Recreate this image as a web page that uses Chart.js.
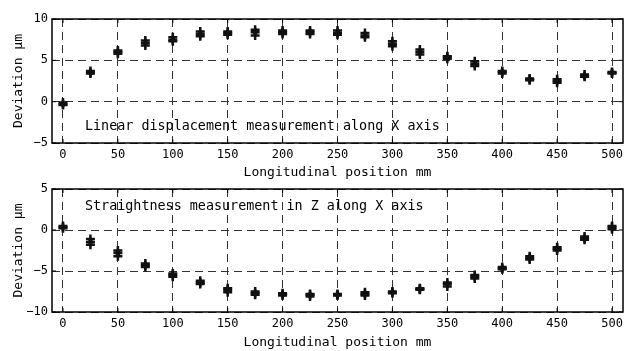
<!DOCTYPE html>
<html><head><meta charset="utf-8">
<script src="https://cdn.jsdelivr.net/npm/chart.js@4"></script>
<style>
html,body{margin:0;padding:0;background:#fff;overflow:hidden;}
canvas{display:block;position:absolute;left:0;}
</style></head>
<body>
<canvas id="c1" width="625" height="181" style="top:0"></canvas>
<canvas id="c2" width="625" height="175" style="top:176px"></canvas>
<script>
const positions = [0,25,50,75,100,125,150,175,200,225,250,275,300,325,350,375,400,425,450,475,500];
const xTicks = [0,50,100,150,200,250,300,350,400,450,500];
const yTicksTop = [-5,0,5,10];
const yTicksBottom = [-10,-5,0,5];

// Linear displacement runs (µm)
const linRun1 = [-0.4,3.4,5.8,6.8,7.3,7.9,8.1,8.0,8.2,8.2,8.1,7.8,6.7,5.7,5.2,4.3,3.4,2.6,2.3,3.0,3.4];
const linRun2 = [-0.1,3.7,6.2,7.4,7.8,8.5,8.5,8.7,8.6,8.6,8.6,8.3,7.3,6.3,5.5,4.9,3.7,2.8,2.7,3.3,3.6];
const linRun3 = [-0.3,3.5,6.0,7.1,7.5,8.2,8.3,8.4,8.4,8.4,8.3,8.0,7.0,6.0,5.4,4.6,3.6,2.7,2.5,3.1,3.5];

// Straightness Z runs (µm)
const strRun1 = [0.2,-1.8,-3.2,-4.5,-5.7,-6.6,-7.6,-7.9,-8.0,-8.1,-8.0,-8.0,-7.7,-7.3,-6.9,-5.9,-4.8,-3.6,-2.5,-1.2,0.1];
const strRun2 = [0.5,-1.1,-2.5,-4.1,-5.3,-6.2,-7.1,-7.5,-7.7,-7.8,-7.8,-7.6,-7.5,-7.1,-6.4,-5.5,-4.5,-3.2,-2.1,-0.8,0.5];
const strRun3 = [0.35,-1.45,-2.8,-4.3,-5.5,-6.4,-7.3,-7.7,-7.85,-7.9,-7.9,-7.8,-7.6,-7.2,-6.6,-5.7,-4.7,-3.4,-2.3,-1.0,0.35];

const MONO = '"DejaVu Sans Mono", monospace';

function mkData(runs){
  return runs.map(r => ({
    data: positions.map((x,i)=>({x:x,y:r[i]})),
    pointStyle:'cross', pointRadius:4.5, pointBorderWidth:2.5,
    borderColor:'#111', backgroundColor:'#111', showLine:false
  })).concat(runs.slice(2).map(r => ({
    data: positions.map((x,i)=>({x:x,y:r[i]})),
    pointStyle:'rect', pointRadius:3, pointBorderWidth:0,
    borderColor:'#111', backgroundColor:'#111', showLine:false
  })));
}

const framePlugin = {
  id:'frame',
  afterDraw(chart, args, opts){
    const {ctx, chartArea:a} = chart;
    ctx.save();
    ctx.strokeStyle='#000'; ctx.lineWidth=1.5;
    ctx.strokeRect(a.left, a.top, a.right-a.left, a.bottom-a.top);
    ctx.lineWidth=1;
    const xs = chart.scales.x, ys = chart.scales.y;
    xTicks.forEach(v=>{ const px=xs.getPixelForValue(v);
      ctx.beginPath(); ctx.moveTo(px,a.bottom); ctx.lineTo(px,a.bottom-4);
      ctx.moveTo(px,a.top); ctx.lineTo(px,a.top+4); ctx.stroke();});
    ys.ticks.forEach(t=>{ const py=ys.getPixelForValue(t.value);
      ctx.beginPath(); ctx.moveTo(a.left,py); ctx.lineTo(a.left+4,py);
      ctx.moveTo(a.right,py); ctx.lineTo(a.right-4,py); ctx.stroke();});
    ctx.font = '13.4px ' + MONO;
    ctx.fillStyle='#000'; ctx.textBaseline='middle'; ctx.textAlign='left';
    ctx.fillText(opts.text, opts.tx, opts.ty);
    ctx.restore();
  }
};

function mkChart(id, runs, ymin, ymax, yTicks, padTop, xH, text, ty){
  return new Chart(document.getElementById(id), {
    type:'scatter',
    data:{datasets: mkData(runs)},
    plugins:[framePlugin],
    options:{
      responsive:false, animation:false, devicePixelRatio:1,
      layout:{autoPadding:false, padding:{top:padTop, right:2, left:0, bottom:0}},
      plugins:{legend:{display:false}, tooltip:{enabled:false},
        frame:{text:text, tx:85, ty:ty}},
      scales:{
        x:{type:'linear', min:-10, max:510,
          afterBuildTicks(s){ s.ticks = xTicks.map(v=>({value:v})); },
          afterFit(s){ s.height = xH; s.paddingLeft = 0; s.paddingRight = 0; },
          grid:{color:'#333', lineWidth:1, drawTicks:false},
          border:{display:false, dash:[8,5]},
          ticks:{color:'#000', font:{family:MONO, size:12}, padding:5, maxRotation:0},
          title:{display:true, text:'Longitudinal position mm', color:'#000',
            font:{family:MONO, size:13}, padding:{top:0,bottom:1}}
        },
        y:{type:'linear', min:ymin, max:ymax,
          afterBuildTicks(s){ s.ticks = yTicks.map(v=>({value:v})); },
          afterFit(s){ s.width = 52; s.paddingTop = 0; s.paddingBottom = 0; },
          grid:{color:'#333', lineWidth:1, drawTicks:false},
          border:{display:false, dash:[8,5]},
          ticks:{color:'#000', font:{family:MONO, size:12}, padding:4,
            callback:v=>String(v).replace('-','\u2212')},
          title:{display:true, text:'Deviation \u00b5m', color:'#000',
            font:{family:MONO, size:13}, padding:{top:11,bottom:0}}
        }
      }
    }
  });
}

mkChart('c1', [linRun1, linRun2, linRun3], -5, 10, yTicksTop, 19, 38,
  'Linear displacement measurement along X axis', 127);
mkChart('c2', [strRun1, strRun2, strRun3], -10, 5, yTicksBottom, 13, 39,
  'Straightness measurement in Z along X axis', 31);
</script>
</body></html>
